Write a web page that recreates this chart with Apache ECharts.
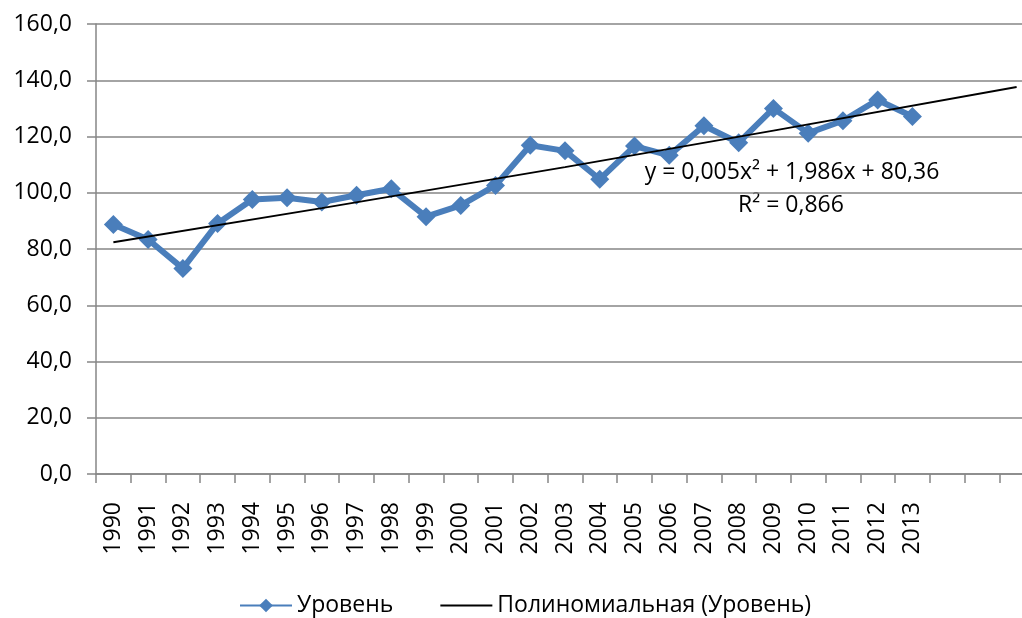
<!DOCTYPE html>
<html>
<head>
<meta charset="utf-8">
<script src="https://cdn.jsdelivr.net/npm/echarts@6/dist/echarts.min.js"></script>
<style>
html,body{margin:0;padding:0;background:#fff;overflow:hidden;}
#chart{width:1034px;height:618px;}
</style>
</head>
<body>
<div id="chart"></div>
<script>
"use strict";

// years on the axis (three extra empty slots for the trend forecast)
const years = ["1990","1991","1992","1993","1994","1995","1996","1997","1998","1999",
	"2000","2001","2002","2003","2004","2005","2006","2007","2008","2009",
	"2010","2011","2012","2013","","",""];
const level = [88.7,83.4,73.1,89.1,97.6,98.2,96.7,99.1,101.4,91.5,
	95.5,102.6,116.9,114.9,104.8,116.6,113.3,123.8,117.8,130.0,
	121.2,125.6,133.0,127.1];
// trend line at a few points
const trend = [82.4,null,null,null,null,null,94.5,null,null,null,
	null,null,null,109.1,null,null,null,null,null,122.1,
	null,null,null,null,null,null,137.6];
const yTicks = [0,20,40,60,80,100,120,140,160];

const FONT = "Open Sans";
const blue = "#4A7EBB";
const grey = "#868686";

// the plot runs past the right edge of the window, as in the original
const myChart = echarts.init(document.getElementById("chart"));

myChart.setOption({
	animation:false,
	textStyle:{fontFamily:FONT},
	grid:{left:96,right:0,top:24,bottom:144},
	legend:{
		bottom:-4,
		left:234,
		itemWidth:52,
		itemHeight:17,
		itemGap:46,
		textStyle:{fontFamily:FONT,fontSize:23,color:"#000"},
		data:["Уровень","Полиномиальная (Уровень)"]
	},
	xAxis:{
		type:"category",
		data:years,
		boundaryGap:true,
		axisLine:{lineStyle:{color:grey,width:1.5}},
		axisTick:{show:true,length:9,lineStyle:{color:grey,width:1.5}},
		axisLabel:{rotate:90,margin:28,fontSize:23,color:"#000",fontFamily:FONT,interval:0}
	},
	yAxis:{
		type:"value",
		min:yTicks[0],
		max:yTicks[yTicks.length-1],
		interval:20,
		axisLine:{show:true,lineStyle:{color:grey,width:1.5}},
		axisTick:{show:true,inside:false,length:9,lineStyle:{color:grey,width:1.5}},
		splitLine:{lineStyle:{color:grey,width:1.5}},
		axisLabel:{margin:24,fontSize:23,color:"#000",fontFamily:FONT,
			formatter:(v)=>v.toFixed(1).replace(".",",")}
	},
	series:[
		{
			name:"Уровень",
			type:"line",
			data:level,
			symbol:"diamond",
			symbolSize:19,
			lineStyle:{color:blue,width:6},
			itemStyle:{color:blue}
		},
		{
			name:"Полиномиальная (Уровень)",
			type:"line",
			data:trend,
			connectNulls:true,
			symbol:"none",
			lineStyle:{color:"#000",width:1.8},
			itemStyle:{color:"#000",opacity:0},
			z:5
		}
	],
	graphic:[
		{type:"text",x:792,y:172,style:{text:"y = 0,005x² + 1,986x + 80,36",font:"23px 'Open Sans'",fill:"#000",align:"center",verticalAlign:"middle"}},
		{type:"text",x:791,y:205,style:{text:"R² = 0,866",font:"23px 'Open Sans'",fill:"#000",align:"center",verticalAlign:"middle"}}
	]
});
</script>
</body>
</html>
